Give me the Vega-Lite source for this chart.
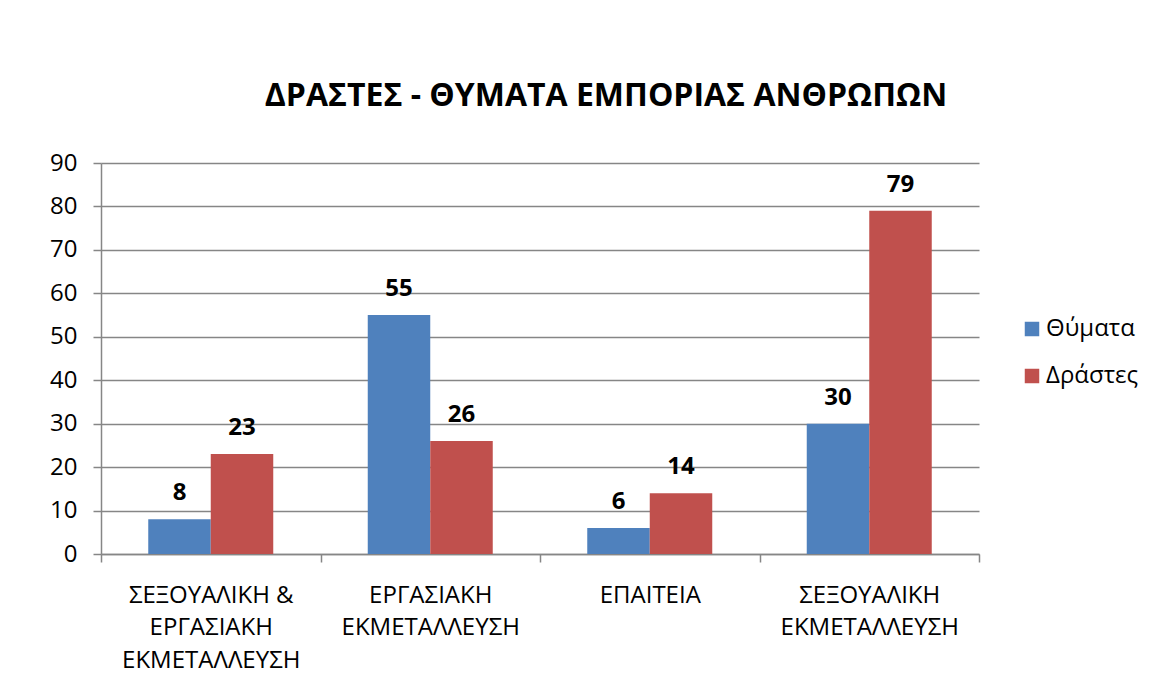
{
  "$schema": "https://vega.github.io/schema/vega-lite/v6.json",
  "width": 878,
  "height": 391,
  "autosize": {"type": "none"},
  "padding": {"left": 101, "top": 163, "right": 171, "bottom": 134},
  "background": "white",
  "data": {
    "values": [
      {"category": "ΣΕΞΟΥΑΛΙΚΗ\u00a0& ΕΡΓΑΣΙΑΚΗ ΕΚΜΕΤΑΛΛΕΥΣΗ", "series": "Θύματα", "value": 8},
      {"category": "ΣΕΞΟΥΑΛΙΚΗ\u00a0& ΕΡΓΑΣΙΑΚΗ ΕΚΜΕΤΑΛΛΕΥΣΗ", "series": "Δράστες", "value": 23},
      {"category": "ΕΡΓΑΣΙΑΚΗ ΕΚΜΕΤΑΛΛΕΥΣΗ", "series": "Θύματα", "value": 55},
      {"category": "ΕΡΓΑΣΙΑΚΗ ΕΚΜΕΤΑΛΛΕΥΣΗ", "series": "Δράστες", "value": 26},
      {"category": "ΕΠΑΙΤΕΙΑ", "series": "Θύματα", "value": 6},
      {"category": "ΕΠΑΙΤΕΙΑ", "series": "Δράστες", "value": 14},
      {"category": "ΣΕΞΟΥΑΛΙΚΗ ΕΚΜΕΤΑΛΛΕΥΣΗ", "series": "Θύματα", "value": 30},
      {"category": "ΣΕΞΟΥΑΛΙΚΗ ΕΚΜΕΤΑΛΛΕΥΣΗ", "series": "Δράστες", "value": 79}
    ]
  },
  "title": {
    "text": "ΔΡΑΣΤΕΣ - ΘΥΜΑΤΑ ΕΜΠΟΡΙΑΣ ΑΝΘΡΩΠΩΝ",
    "font": "Open Sans",
    "fontSize": 32,
    "fontWeight": "bold",
    "color": "black",
    "anchor": "middle",
    "dx": 66,
    "offset": 38
  },
  "encoding": {
    "x": {
      "field": "category",
      "type": "nominal",
      "sort": null,
      "scale": {"paddingInner": 0, "paddingOuter": 0},
      "axis": {
        "title": null,
        "labelAngle": 0,
        "tickBand": "extent",
        "domainColor": "#868686",
        "domainWidth": 1.5,
        "tickColor": "#868686",
        "tickWidth": 1.5,
        "tickSize": 8,
        "labelFont": "Open Sans",
        "labelFontSize": 24,
        "labelColor": "black",
        "labelLineHeight": 32.5,
        "labelBaseline": "top",
        "labelPadding": 21,
        "labelLimit": 0,
        "labelExpr": "datum.value ? split(datum.value, ' ') : ''"
      }
    },
    "xOffset": {
      "field": "series",
      "type": "nominal",
      "sort": ["Θύματα", "Δράστες"],
      "scale": {"paddingInner": 0, "paddingOuter": 0.756}
    },
    "y": {
      "field": "value",
      "type": "quantitative",
      "scale": {"domain": [0, 90]},
      "axis": {
        "title": null,
        "values": [0, 10, 20, 30, 40, 50, 60, 70, 80, 90],
        "domainColor": "#868686",
        "domainWidth": 1.5,
        "tickColor": "#868686",
        "tickWidth": 1.5,
        "tickSize": 8,
        "gridColor": "#868686",
        "gridWidth": 1.3,
        "labelFont": "Open Sans",
        "labelFontSize": 24,
        "labelColor": "black",
        "labelPadding": 16
      }
    }
  },
  "layer": [
    {
      "mark": {"type": "bar"},
      "encoding": {
        "color": {
          "field": "series",
          "type": "nominal",
          "sort": ["Θύματα", "Δράστες"],
          "scale": {"range": ["#4F81BD", "#C0504D"]},
          "legend": {
            "title": null,
            "orient": "none",
            "legendX": 919,
            "legendY": 154,
            "padding": 0,
            "symbolType": "square",
            "symbolSize": 210,
            "symbolStrokeWidth": 0,
            "labelFont": "Open Sans",
            "labelFontSize": 24,
            "labelColor": "black",
            "rowPadding": 23,
            "labelOffset": 2
          }
        }
      }
    },
    {
      "mark": {
        "type": "text",
        "font": "Open Sans",
        "fontSize": 24,
        "fontWeight": "bold",
        "color": "black",
        "baseline": "alphabetic",
        "dy": -19
      },
      "encoding": {"text": {"field": "value", "type": "quantitative"}}
    }
  ],
  "config": {"view": {"stroke": null}}
}
